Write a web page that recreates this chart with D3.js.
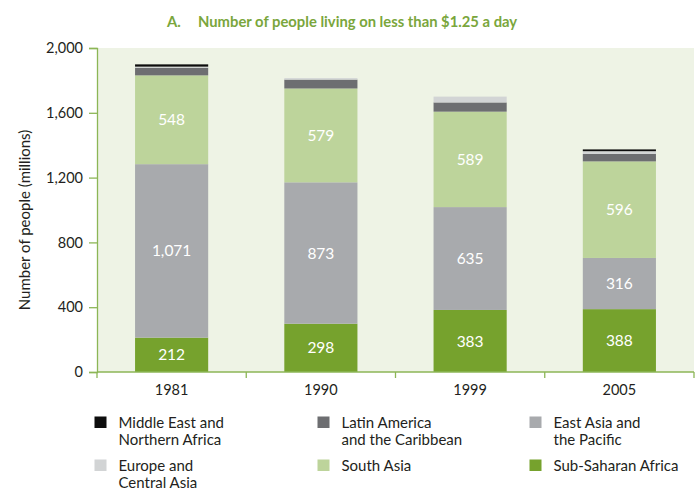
<!DOCTYPE html>
<html>
<head>
<meta charset="utf-8">
<script src="https://cdn.jsdelivr.net/npm/d3@7"></script>
<style>
  html, body { margin: 0; padding: 0; background: #ffffff; }
  svg { display: block; }
  text { font-family: Lato, "Open Sans", sans-serif; }
</style>
</head>
<body>
<svg id="chart" width="697" height="491"></svg>
<script>
// ---- data ----
const years = ["1981", "1990", "1999", "2005"];
const subSaharanAfrica = [212, 298, 383, 388];
const eastAsiaPacific = [1071, 873, 635, 316];
const southAsia = [548, 579, 589, 596];
const latinAmerica = [47, 55, 57, 46];
const europeCentralAsia = [7, 9, 36, 17];
const middleEastNAfrica = [14, 0, 0, 11];
const yTicks = [0, 400, 800, 1200, 1600, 2000];

const seriesNames = ["Sub-Saharan Africa", "East Asia and the Pacific", "South Asia",
  "Latin America and the Caribbean", "Europe and Central Asia", "Middle East and Northern Africa"];
const seriesValues = [subSaharanAfrica, eastAsiaPacific, southAsia, latinAmerica, europeCentralAsia, middleEastNAfrica];
const labelled = [true, true, true, false, false, false];

const colors = {
  "Sub-Saharan Africa": "#76a22d",
  "East Asia and the Pacific": "#a8aaad",
  "South Asia": "#bdd49b",
  "Latin America and the Caribbean": "#6d6e71",
  "Europe and Central Asia": "#d2d4d5",
  "Middle East and Northern Africa": "#0d0d0d"
};

const legendItems = [
  { key: "Middle East and Northern Africa", lines: ["Middle East and", "Northern Africa"] },
  { key: "Latin America and the Caribbean", lines: ["Latin America", "and the Caribbean"] },
  { key: "East Asia and the Pacific", lines: ["East Asia and", "the Pacific"] },
  { key: "Europe and Central Asia", lines: ["Europe and", "Central Asia"] },
  { key: "South Asia", lines: ["South Asia"] },
  { key: "Sub-Saharan Africa", lines: ["Sub-Saharan Africa"] }
];

// ---- layout ----
const svg = d3.select("#chart");
const pLeft = 97, pRight = 694, pTop = 48, pBottom = 372;
const axisColor = "#8cb656";
const textColor = "#231f20";

const table = years.map((yr, i) => {
  const row = { year: yr };
  seriesNames.forEach((s, k) => row[s] = seriesValues[k][i]);
  return row;
});
const stack = d3.stack().keys(seriesNames)(table);

const slot = d3.scaleBand().domain(years).range([pLeft, pRight]).padding(0);
const x = d3.scaleBand().domain(years).range([pLeft, pRight]).paddingInner(0.51).paddingOuter(0.255);
const y = d3.scaleLinear().domain([0, 2000]).range([pBottom, pTop]);

// plot background
svg.append("rect").attr("x", pLeft).attr("y", pTop)
  .attr("width", pRight - pLeft).attr("height", pBottom - pTop)
  .attr("fill", "#eef3e5");

// title
svg.append("text").attr("x", 167).attr("y", 27)
  .attr("fill", "#7aa63c").attr("font-weight", "bold").attr("font-size", 14.8)
  .text("A.");
svg.append("text").attr("x", 198).attr("y", 27)
  .attr("fill", "#7aa63c").attr("font-weight", "bold").attr("font-size", 14.8)
  .text("Number of people living on less than $1.25 a day");

// bars
const g = svg.append("g");
stack.forEach((layer, k) => {
  g.selectAll(null).data(layer).enter().append("rect")
    .attr("x", d => x(d.data.year))
    .attr("width", x.bandwidth())
    .attr("y", d => y(d[1]))
    .attr("height", d => Math.max(0, y(d[0]) - y(d[1])))
    .attr("fill", colors[layer.key]);
  if (labelled[k]) {
    g.selectAll(null).data(layer).enter().append("text")
      .attr("x", d => x(d.data.year) + x.bandwidth() / 2)
      .attr("y", d => (y(d[0]) + y(d[1])) / 2)
      .attr("dy", "0.36em")
      .attr("text-anchor", "middle")
      .attr("fill", "#ffffff")
      .attr("font-size", 15.5)
      .text(d => d3.format(",")(d[1] - d[0]));
  }
});

// y axis
const yAxis = d3.axisLeft(y).tickValues(yTicks).tickFormat(d3.format(",")).tickSize(8).tickPadding(6);
const ya = svg.append("g").attr("transform", `translate(${pLeft},0)`).call(yAxis);
ya.select(".domain").attr("stroke", axisColor).attr("stroke-width", 1.3);
ya.selectAll(".tick line").attr("stroke", axisColor).attr("stroke-width", 1.3);
ya.selectAll(".tick text").attr("fill", textColor).attr("font-size", 14.5)
  .attr("font-family", "Lato, sans-serif");

// x axis
const xa = svg.append("g").attr("transform", `translate(0,${pBottom})`);
xa.append("line").attr("x1", pLeft).attr("x2", pRight).attr("y1", 0).attr("y2", 0)
  .attr("stroke", axisColor).attr("stroke-width", 1.3);
const bounds = years.map(d => slot(d)).concat([slot(years[years.length - 1]) + slot.bandwidth()]);
xa.selectAll(null).data(bounds).enter().append("line")
  .attr("x1", d => d).attr("x2", d => d).attr("y1", 0).attr("y2", 6)
  .attr("stroke", axisColor).attr("stroke-width", 1.3);
xa.selectAll(null).data(years).enter().append("text")
  .attr("x", d => slot(d) + slot.bandwidth() / 2)
  .attr("y", 23)
  .attr("text-anchor", "middle")
  .attr("fill", textColor).attr("font-size", 14.5)
  .text(d => d);

// y label
svg.append("text")
  .attr("transform", `translate(30,${(pTop + pBottom) / 2 + 10}) rotate(-90)`)
  .attr("text-anchor", "middle")
  .attr("fill", textColor).attr("font-size", 15)
  .text("Number of people (millions)");

// legend
const colX = [94.5, 317.5, 529.5];
const rowY = [416.5, 459.5];
legendItems.forEach((item, i) => {
  const cx = colX[i % 3], ry = rowY[Math.floor(i / 3)];
  svg.append("rect").attr("x", cx).attr("y", ry).attr("width", 12).attr("height", 11.5)
    .attr("fill", colors[item.key]);
  const t = svg.append("text").attr("x", cx + 24).attr("y", ry + 11.2)
    .attr("fill", textColor).attr("font-size", 15);
  item.lines.forEach((ln, j) => {
    t.append("tspan").attr("x", cx + 24).attr("dy", j === 0 ? 0 : 17.5).text(ln);
  });
});
</script>
</body>
</html>
